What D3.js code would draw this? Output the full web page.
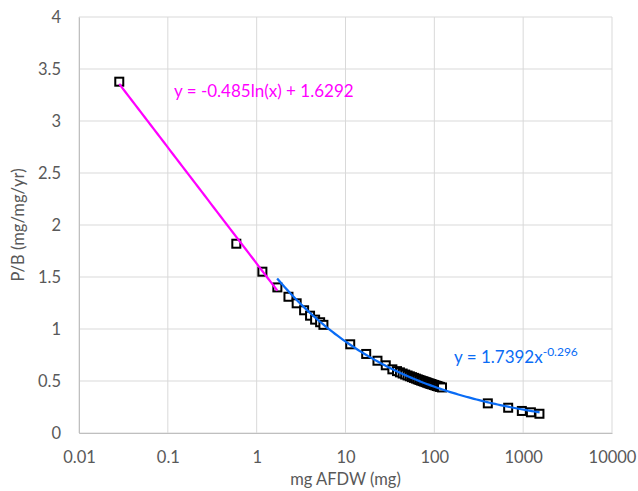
<!DOCTYPE html>
<html>
<head>
<meta charset="utf-8">
<script src="https://cdn.jsdelivr.net/npm/d3@7"></script>
<style>
  body { margin: 0; background: #fff; }
  text { font-family: Lato, "Open Sans", sans-serif; }
</style>
</head>
<body>
<svg id="chart"></svg>
<script>
// data
const massValues = [0.0284, 0.59, 1.16, 1.71, 2.28, 2.82, 3.42, 3.99, 4.55, 5.18, 5.64,
  11.3, 17.1, 22.9, 28.4, 33.7, 38, 41, 44, 47, 50, 53, 56, 59, 62, 65, 68, 71, 74, 77, 80, 83, 86, 89, 92, 95, 99, 103, 107, 111, 116, 122,
  400, 678, 966, 1222, 1525];
const pbValues = [3.378, 1.82, 1.551, 1.40, 1.31, 1.247, 1.18, 1.128, 1.09, 1.065, 1.04,
  0.853, 0.76, 0.695, 0.651, 0.612, 0.595, 0.583, 0.572, 0.562, 0.553, 0.545, 0.537, 0.53, 0.523, 0.516, 0.51, 0.504, 0.499, 0.494, 0.489, 0.484, 0.479, 0.475, 0.471, 0.467, 0.462, 0.457, 0.452, 0.448, 0.443, 0.438,
  0.285, 0.243, 0.212, 0.199, 0.185];
const xTicks = [0.01, 0.1, 1, 10, 100, 1000, 10000];
const yTicks = [0, 0.5, 1, 1.5, 2, 2.5, 3, 3.5, 4];
const logFitRange = [0.0284, 1.71];
const powFitRange = [1.7, 1530];

const svgWidth = 638;
const svgHeight = 491;
const margin = { top: 17, right: 26, bottom: 58, left: 79 };
const width = svgWidth - margin.left - margin.right;
const height = svgHeight - margin.top - margin.bottom;

const svg = d3.select("#chart")
    .attr("width", svgWidth)
    .attr("height", svgHeight);

const chart = svg.append("g")
    .attr("transform", "translate(" + margin.left + "," + margin.top + ")");

const xScale = d3.scaleLog().domain([0.01, 10000]).range([0, width]);
const yScale = d3.scaleLinear().domain([0, 4]).range([height, 0]);

// gridlines
chart.append("g")
    .selectAll("line")
    .data(xTicks)
    .enter().append("line")
    .attr("x1", d => xScale(d)).attr("x2", d => xScale(d))
    .attr("y1", 0).attr("y2", height)
    .attr("stroke", "#d9d9d9").attr("stroke-width", 1);

chart.append("g")
    .selectAll("line")
    .data(yTicks)
    .enter().append("line")
    .attr("x1", 0).attr("x2", width)
    .attr("y1", d => yScale(d)).attr("y2", d => yScale(d))
    .attr("stroke", "#d9d9d9").attr("stroke-width", 1);

// axes
const xAxis = chart.append("g")
    .attr("transform", "translate(0," + height + ")")
    .call(d3.axisBottom(xScale).tickValues(xTicks).tickFormat(d3.format("~g")).tickSize(0).tickPadding(18));
const yAxis = chart.append("g")
    .call(d3.axisLeft(yScale).tickValues(yTicks).tickFormat(d3.format("~g")).tickSize(0).tickPadding(18));

xAxis.select(".domain").attr("stroke", "#bfbfbf");
yAxis.select(".domain").attr("stroke", "#bfbfbf");
chart.selectAll(".tick text")
    .attr("fill", "#595959")
    .style("font-size", "16.5px")
    .style("font-family", "Lato, sans-serif");

// trendlines
const logFit = x => -0.485 * Math.log(x) + 1.6292;
const powFit = x => 1.7392 * Math.pow(x, -0.296);

const line = d3.line()
    .x(d => xScale(d[0]))
    .y(d => yScale(d[1]));

const logPts = d3.range(0, 51).map(i => {
  const x = logFitRange[0] * Math.pow(logFitRange[1] / logFitRange[0], i / 50);
  return [x, logFit(x)];
});
const powPts = d3.range(0, 101).map(i => {
  const x = powFitRange[0] * Math.pow(powFitRange[1] / powFitRange[0], i / 100);
  return [x, powFit(x)];
});

// markers
chart.selectAll(".pt")
    .data(massValues)
    .enter().append("rect")
    .attr("class", "pt")
    .attr("x", (d, i) => xScale(d) - 4)
    .attr("y", (d, i) => yScale(pbValues[i]) - 4)
    .attr("width", 8)
    .attr("height", 8)
    .attr("fill", "#fff")
    .attr("stroke", "#000")
    .attr("stroke-width", 2);

chart.append("path")
    .datum(logPts)
    .attr("d", line)
    .attr("fill", "none")
    .attr("stroke", "#ff00ff")
    .attr("stroke-width", 2.25);

chart.append("path")
    .datum(powPts)
    .attr("d", line)
    .attr("fill", "none")
    .attr("stroke", "#0a6cf5")
    .attr("stroke-width", 2.25);

// equations
svg.append("text")
    .attr("x", 174)
    .attr("y", 97)
    .attr("fill", "#ff00ff")
    .style("font-size", "17px")
    .text("y = -0.485ln(x) + 1.6292");

const powLabel = svg.append("text")
    .attr("x", 454)
    .attr("y", 363)
    .attr("fill", "#0a6cf5")
    .style("font-size", "17px");
powLabel.append("tspan").text("y = 1.7392x");
powLabel.append("tspan").attr("dy", -7).style("font-size", "12px").text("-0.296");

// axis titles
svg.append("text")
    .attr("x", margin.left + width / 2)
    .attr("y", 485)
    .attr("text-anchor", "middle")
    .attr("fill", "#595959")
    .style("font-size", "16.5px")
    .text("mg AFDW (mg)");

svg.append("text")
    .attr("transform", "translate(24," + (margin.top + height / 2) + ") rotate(-90)")
    .attr("text-anchor", "middle")
    .attr("fill", "#595959")
    .style("font-size", "16.5px")
    .text("P/B (mg/mg/yr)");
</script>
</body>
</html>
